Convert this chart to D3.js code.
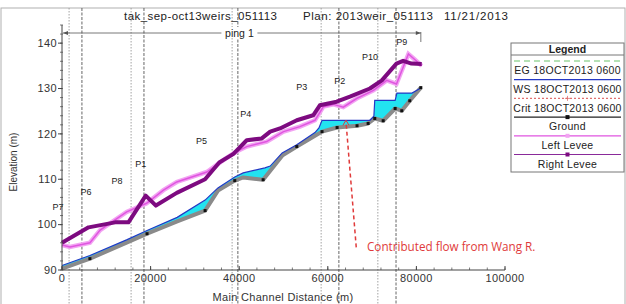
<!DOCTYPE html>
<html lang="en">
<head>
<meta charset="UTF-8">
<title>tak_sep-oct13weirs profile</title>
<style>
  body { margin: 0; padding: 0; background: #fff; }
  svg { display: block; font-family: "Liberation Sans", Arial, sans-serif; }
</style>
</head>
<body>
<script src="https://d3js.org/d3.v7.min.js"></script>
<script>
// profile data (distance in m, elevation in m)
const groundX = [0, 6300, 14700, 19200, 26000, 32300, 35200, 39000, 40900, 45400, 49700, 53000, 57100, 58700, 62100, 66600, 69100, 70600, 72500, 75200, 76700, 78500, 81000];
const groundY = [90.3, 92.5, 96.1, 98.0, 100.7, 103.1, 107.5, 109.7, 110.4, 109.9, 115.2, 117.2, 119.6, 120.5, 121.4, 121.8, 122.3, 123.4, 122.9, 125.6, 125.1, 127.3, 130.2];
const wsX = [0, 6300, 14700, 19200, 26000, 32300, 35200, 39000, 40900, 45800, 47000, 49700, 53000, 57100, 58000, 58700, 69500, 70400, 70600, 75200, 75600, 79000, 81000];
const wsY = [91.0, 93.2, 96.7, 98.7, 101.6, 105.4, 108.1, 110.5, 111.4, 112.5, 112.9, 115.8, 117.6, 120.3, 121.3, 123.0, 123.0, 123.9, 127.4, 127.4, 129.0, 129.0, 130.1];
const leftLeveeX = [0, 1800, 6300, 8600, 14600, 19100, 22900, 25900, 32700, 36400, 39400, 41700, 46200, 50000, 53700, 57100, 59000, 61300, 63500, 66500, 70300, 73300, 75500, 78200, 79500, 81200];
const leftLeveeY = [95.5, 95.1, 96.0, 98.8, 102.8, 104.7, 107.6, 109.4, 111.6, 114.2, 116.1, 117.2, 118.3, 120.5, 121.6, 123.0, 126.0, 126.5, 125.9, 127.8, 129.6, 131.8, 131.0, 137.6, 136.5, 135.0];
const rightLeveeX = [0, 6000, 12000, 15000, 18900, 21200, 25900, 32300, 35500, 38700, 41700, 45100, 47000, 49200, 53000, 56700, 58200, 62000, 65000, 69500, 72200, 75500, 77000, 78900, 81200];
const rightLeveeY = [96.0, 99.4, 100.5, 100.5, 106.4, 104.2, 107.0, 110.0, 113.7, 115.6, 118.6, 119.0, 120.5, 121.2, 123.0, 124.1, 126.3, 127.1, 128.2, 130.0, 131.8, 135.5, 136.1, 135.5, 135.4];

// pump / structure stations
const stationX = [1600, 4500, 15600, 18500, 38400, 39700, 58500, 62500, 71300, 75400];
const stationNames = ["P7", "P6", "P8", "P1", "P5", "P4", "P3", "P2", "P10", "P9"];
const stationLabelX = [-900, 5400, 12400, 17800, 31500, 41500, 54100, 62700, 69500, 76700];
const stationLabelY = [103.9, 107.2, 109.6, 113.3, 118.4, 124.5, 130.4, 131.8, 137.0, 140.3];

const yTicks = [90, 100, 110, 120, 130, 140];
const xTicks = [0, 20000, 40000, 60000, 80000, 100000];
const legendLabels = ["EG 18OCT2013 0600", "WS 18OCT2013 0600", "Crit 18OCT2013 0600", "Ground", "Left Levee", "Right Levee"];

const titleParts = ["tak_sep-oct13weirs_051113", "Plan: 2013weir_051113", "11/21/2013"];
const titleStart = [124, 303, 444], titleWidth = [153, 130, 64];
const reachName = "ping 1";
const reachStart = 0, reachEnd = 81000;
const note = "Contributed flow from Wang R.";
const noteFrom = [68000, 95.0], noteTo = [64100, 122.8];

const width = 626, height = 304;
const svg = d3.select("body").append("svg").attr("width", width).attr("height", height);

const x = d3.scaleLinear().domain([0, 100000]).range([62, 505]);
const y = d3.scaleLinear().domain([90, 144]).range([270, 25]);

// outer frame
svg.append("rect").attr("x", 1).attr("y", 8).attr("width", 624).attr("height", 300)
  .attr("fill", "none").attr("stroke", "#b0b0b0");

// station lines
svg.append("g").selectAll("line").data(stationX).join("line")
  .attr("x1", d => x(d)).attr("x2", d => x(d))
  .attr("y1", 8).attr("y2", height)
  .attr("stroke", (d, i) => i % 2 ? "#555" : "#999")
  .attr("stroke-width", 0.9)
  .attr("stroke-dasharray", (d, i) => i % 2 ? "3,1.5" : "1.5,1.5");

svg.append("g").selectAll("text").data(stationNames).join("text")
  .attr("x", (d, i) => x(stationLabelX[i])).attr("y", (d, i) => y(stationLabelY[i]))
  .attr("dy", "0.35em").attr("text-anchor", "middle")
  .attr("font-size", 9).attr("fill", "#222")
  .text(d => d);

// title
svg.append("g").selectAll("text").data(titleParts).join("text")
  .attr("x", (d, i) => titleStart[i]).attr("y", 20)
  .attr("textLength", (d, i) => titleWidth[i]).attr("lengthAdjust", "spacing")
  .attr("font-size", 11.5).attr("fill", "#222").text(d => d);

// reach extent arrow
const ry = 33;
svg.append("line").attr("x1", x(reachStart) + 1).attr("x2", x(reachEnd)).attr("y1", ry).attr("y2", ry)
  .attr("stroke", "#555").attr("stroke-width", 0.8);
svg.append("path").attr("d", `M${x(reachStart) + 1},${ry} l5,-2 l0,4 z`).attr("fill", "#555");
svg.append("path").attr("d", `M${x(reachEnd)},${ry} l-5,-2 l0,4 z`).attr("fill", "#555");
svg.append("line").attr("x1", x(reachEnd)).attr("x2", x(reachEnd)).attr("y1", ry - 1).attr("y2", ry + 9)
  .attr("stroke", "#555").attr("stroke-width", 0.8);
const mid = (x(reachStart) + x(reachEnd)) / 2 - 2;
svg.append("rect").attr("x", mid - 18).attr("y", ry - 6).attr("width", 36).attr("height", 11).attr("fill", "#fff");
svg.append("text").attr("x", mid).attr("y", ry).attr("dy", "0.35em").attr("text-anchor", "middle")
  .attr("font-size", 10.5).attr("fill", "#222").text(reachName);

// water fill between ground and water surface
const ws = wsX.map((d, i) => [d, wsY[i]]);
const ground = groundX.map((d, i) => [d, groundY[i]]);
const fillPoly = ws.concat(ground.slice().reverse());
svg.append("path")
  .attr("d", "M" + fillPoly.map(p => [x(p[0]), y(p[1])].join(",")).join("L") + "Z")
  .attr("fill", "#22e3f0");

const line = d3.line().x(d => x(d[0])).y(d => y(d[1]));

// levees
const left = leftLeveeX.map((d, i) => [d, leftLeveeY[i]]);
const right = rightLeveeX.map((d, i) => [d, rightLeveeY[i]]);
svg.append("path").attr("d", line(left)).attr("fill", "none")
  .attr("stroke", "#f2a4f2").attr("stroke-width", 4.5);
svg.append("path").attr("d", line(left)).attr("fill", "none")
  .attr("stroke", "#e055e0").attr("stroke-width", 1.5);
svg.append("path").attr("d", line(right)).attr("fill", "none")
  .attr("stroke", "#7d0a80").attr("stroke-width", 4).attr("stroke-linejoin", "round");

// ground and water surface
svg.append("path").attr("d", line(ground)).attr("fill", "none")
  .attr("stroke", "#8a8a8a").attr("stroke-width", 4).attr("stroke-linejoin", "round");
svg.append("path").attr("d", line(ws)).attr("fill", "none")
  .attr("stroke", "#2438c4").attr("stroke-width", 1.2);
svg.append("g").selectAll("rect").data(ground.filter((d, i) => i % 2 === 1 || i > 12)).join("rect")
  .attr("x", d => x(d[0]) - 1.5).attr("y", d => y(d[1]) - 1.5)
  .attr("width", 3).attr("height", 3).attr("fill", "#111");

// axes
const axisColor = "#444";
const yAxis = svg.append("g").attr("transform", `translate(${x(0)},0)`);
yAxis.append("line").attr("y1", y(144)).attr("y2", y(90)).attr("stroke", axisColor);
yAxis.selectAll(".minor").data(d3.range(90, 145, 2)).join("line")
  .attr("x1", -2).attr("x2", 1).attr("y1", d => y(d)).attr("y2", d => y(d))
  .attr("stroke", axisColor).attr("stroke-width", 0.7);
yAxis.selectAll(".major").data(yTicks).join("line")
  .attr("x1", -4).attr("x2", 0).attr("y1", d => y(d)).attr("y2", d => y(d))
  .attr("stroke", axisColor);
yAxis.selectAll("text").data(yTicks).join("text")
  .attr("x", -5).attr("y", d => y(d)).attr("dy", "0.35em").attr("text-anchor", "end")
  .attr("font-size", 11).attr("letter-spacing", 0.4).attr("fill", "#333").text(d => d);

const xAxis = svg.append("g").attr("transform", `translate(0,${y(90)})`);
xAxis.append("line").attr("x1", x(0)).attr("x2", x(100000)).attr("stroke", axisColor);
xAxis.selectAll(".minor").data(d3.range(0, 100001, 4000)).join("line")
  .attr("x1", d => x(d)).attr("x2", d => x(d)).attr("y1", 0).attr("y2", -2.5)
  .attr("stroke", axisColor).attr("stroke-width", 0.7);
xAxis.selectAll(".major").data(xTicks).join("line")
  .attr("x1", d => x(d)).attr("x2", d => x(d)).attr("y1", 0).attr("y2", -4)
  .attr("stroke", axisColor);
xAxis.selectAll("text").data(xTicks).join("text")
  .attr("x", d => x(d)).attr("y", 12).attr("text-anchor", "middle")
  .attr("font-size", 11).attr("letter-spacing", 0.4).attr("fill", "#333").text(d => d);

svg.append("text").attr("transform", "translate(17,162) rotate(-90)").attr("text-anchor", "middle")
  .attr("font-size", 10).attr("fill", "#333").text("Elevation (m)");
svg.append("text").attr("x", 283).attr("y", 301).attr("text-anchor", "middle")
  .attr("font-size", 11).attr("letter-spacing", 0.3).attr("fill", "#333").text("Main Channel Distance (m)");

// annotation
const nx1 = x(noteFrom[0]) - 7, ny1 = y(noteFrom[1]), nx2 = x(noteTo[0]), ny2 = y(noteTo[1]);
svg.append("line").attr("x1", nx1).attr("y1", ny1).attr("x2", nx2).attr("y2", ny2)
  .attr("stroke", "#e03a3a").attr("stroke-width", 1.5).attr("stroke-dasharray", "4,3");
svg.append("path").attr("d", `M${nx2 - 3},${ny2 + 4} L${nx2},${ny2 - 1} L${nx2 + 3},${ny2 + 4}`)
  .attr("fill", "none").attr("stroke", "#e03a3a").attr("stroke-width", 1);
svg.append("text").attr("x", 367).attr("y", y(noteFrom[1])).attr("dy", "0.35em")
  .attr("font-family", "'Open Sans', sans-serif").attr("font-size", 11.7).attr("fill", "#e03a3a").text(note);

// legend
const lg = svg.append("g").attr("transform", "translate(511,43)");
lg.append("rect").attr("width", 113).attr("height", 129).attr("fill", "#fff").attr("stroke", "#777");
lg.append("text").attr("x", 56.5).attr("y", 6).attr("dy", "0.35em").attr("text-anchor", "middle")
  .attr("font-size", 10.5).attr("font-weight", "bold").attr("fill", "#222").text("Legend");
lg.append("line").attr("x1", 0).attr("x2", 113).attr("y1", 12).attr("y2", 12).attr("stroke", "#777");
const legendStyle = [
  { stroke: "#6cc46c", dash: "6,4", marker: null },
  { stroke: "#2438c4", dash: null, marker: null },
  { stroke: "#e07070", dash: "2,2", marker: "cross" },
  { stroke: "#222", dash: null, marker: "#111" },
  { stroke: "#e055e0", dash: null, marker: "#f2a4f2" },
  { stroke: "#8a2a9a", dash: null, marker: "#7d0a80" }
];
const rows = lg.selectAll(".row").data(legendLabels).join("g")
  .attr("transform", (d, i) => `translate(0,${18 + i * 18.7})`);
rows.append("line").attr("x1", 3).attr("x2", 110).attr("y1", 0).attr("y2", 0)
  .attr("stroke", (d, i) => legendStyle[i].stroke)
  .attr("stroke-width", 1.2)
  .attr("stroke-dasharray", (d, i) => legendStyle[i].dash);
rows.filter((d, i) => legendStyle[i].marker && legendStyle[i].marker !== "cross").append("rect")
  .attr("x", 54.5).attr("y", -2).attr("width", 4).attr("height", 4)
  .attr("fill", d => legendStyle[legendLabels.indexOf(d)].marker);
rows.filter((d, i) => legendStyle[i].marker === "cross").append("path")
  .attr("d", "M54,0 h5 M56.5,-2.5 v5").attr("stroke", "#e07070").attr("stroke-width", 0.8);
rows.append("text").attr("x", 56.5).attr("y", 9.5).attr("dy", "0.35em").attr("text-anchor", "middle")
  .attr("font-size", 10.5).attr("letter-spacing", 0.3).attr("fill", "#222").text(d => d);
</script>
</body>
</html>
